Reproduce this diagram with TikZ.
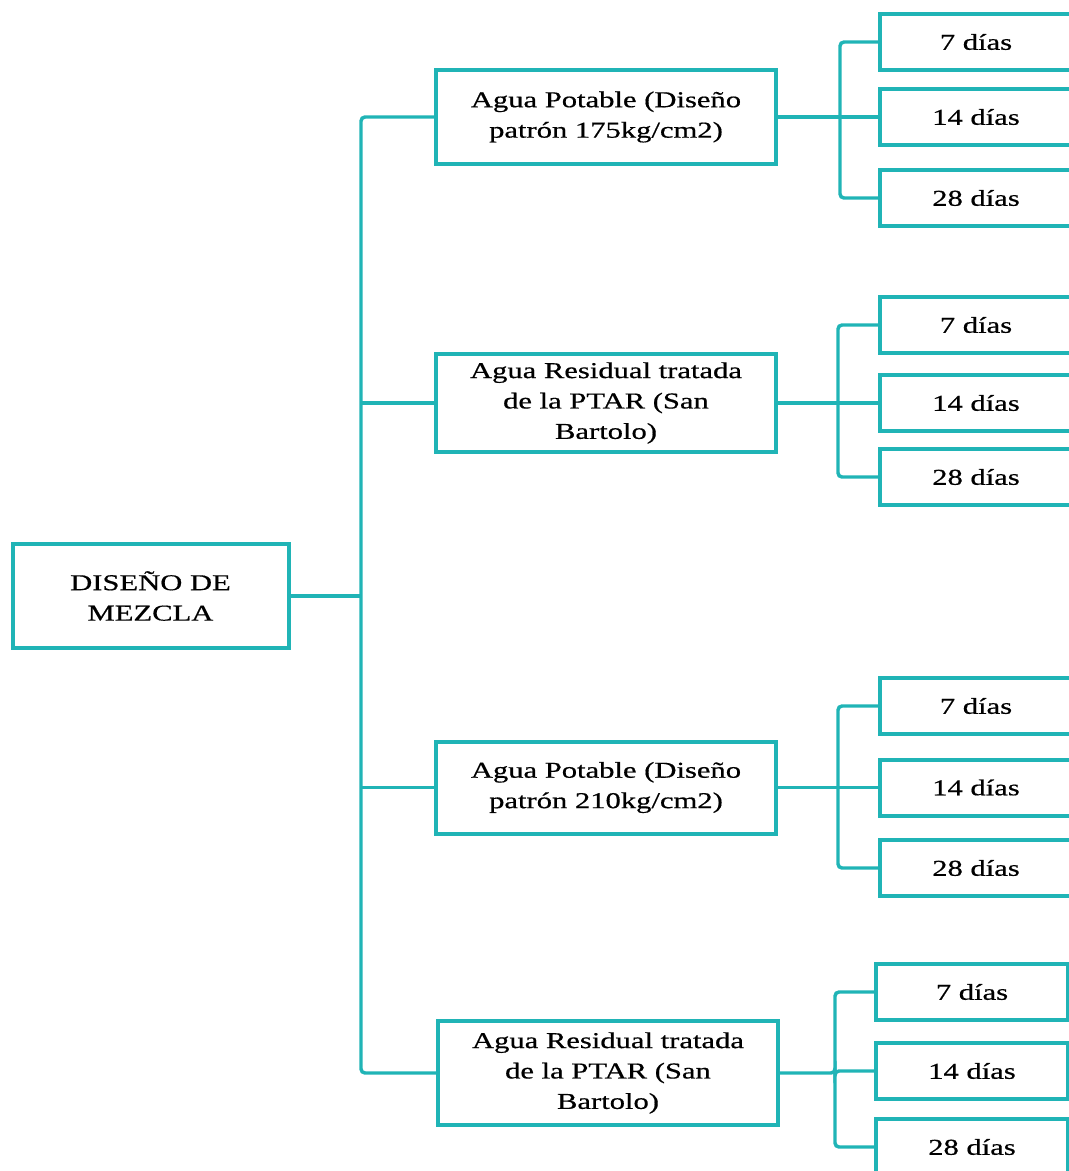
\documentclass[tikz,border=0pt]{standalone}
\usepackage{fontspec}
\setmainfont{Liberation Serif}[FakeStretch=1.35,FakeBold=0.6]
\definecolor{teal1}{RGB}{32,180,182}
\begin{document}
\begin{tikzpicture}[x=0.75pt,y=-0.75pt,
  box/.style={draw=teal1,line width=3pt,fill=white,align=center,inner sep=0pt,
    font=\fontsize{17}{22.8}\selectfont},
  rootbox/.style={box,minimum width=207pt,minimum height=78pt},
  midbox/.style={box,minimum width=255pt},
  leafbox/.style={box,minimum width=144pt,minimum height=42pt},
  conn/.style={draw=teal1,line width=2.6pt,rounded corners=3pt}]
\useasboundingbox (0,0) rectangle (1069,1171);
\clip (0,0) rectangle (1069,1171);
% root
\node[rootbox] (root) at (150.5,596) {DISEÑO DE\\MEZCLA};
% middle boxes
\node[midbox,minimum height=70pt] (m1) at (606,117) {Agua Potable (Diseño\\patrón 175kg/cm2)};
\node[midbox,minimum height=74pt] (m2) at (606,403) {Agua Residual tratada\\de la PTAR (San\\Bartolo)};
\node[midbox,minimum height=69pt] (m3) at (606,787.5) {Agua Potable (Diseño\\patrón 210kg/cm2)};
\node[midbox,minimum height=78pt] (m4) at (608,1073) {Agua Residual tratada\\de la PTAR (San\\Bartolo)};
% leaves
\node[leafbox] (l1a) at (976,42) {7 días};
\node[leafbox] (l1b) at (976,117) {14 días};
\node[leafbox] (l1c) at (976,198) {28 días};
\node[leafbox] (l2a) at (976,325) {7 días};
\node[leafbox] (l2b) at (976,403) {14 días};
\node[leafbox] (l2c) at (976,477) {28 días};
\node[leafbox] (l3a) at (976,706) {7 días};
\node[leafbox] (l3b) at (976,787.5) {14 días};
\node[leafbox] (l3c) at (976,868) {28 días};
\node[leafbox] (l4a) at (972,992) {7 días};
\node[leafbox] (l4b) at (972,1071) {14 días};
\node[leafbox] (l4c) at (972,1147) {28 días};
% junction coordinates
\coordinate (t) at (361,596);
\coordinate (j1) at (840,117);
\coordinate (j2) at (838,403);
\coordinate (j3) at (838,787.5);
\coordinate (j4) at (835,1071);
% trunk
\draw[conn] (root.east) -- (root.east -| t);
\draw[conn] (m1.west) -- (m1.west -| t) -- (m4.west -| t) -- (m4.west);
\draw[conn] (m2.west -| t) -- (m2.west);
\draw[conn] (m3.west -| t) -- (m3.west);
% group 1
\draw[conn] (m1.east) -- (m1.east -| j1) -- (l1b.west);
\draw[conn] (l1a.west) -| (j1) |- (l1c.west);
% group 2
\draw[conn] (m2.east) -- (m2.east -| j2) -- (l2b.west);
\draw[conn] (l2a.west) -| (j2) |- (l2c.west);
% group 3
\draw[conn] (m3.east) -- (m3.east -| j3) -- (l3b.west);
\draw[conn] (l3a.west) -| (j3) |- (l3c.west);
% group 4
\draw[conn] (m4.east) -- (m4.east -| j4) |- (l4b.west);
\draw[conn] (l4a.west) -| (j4) |- (l4c.west);
\end{tikzpicture}
\end{document}
